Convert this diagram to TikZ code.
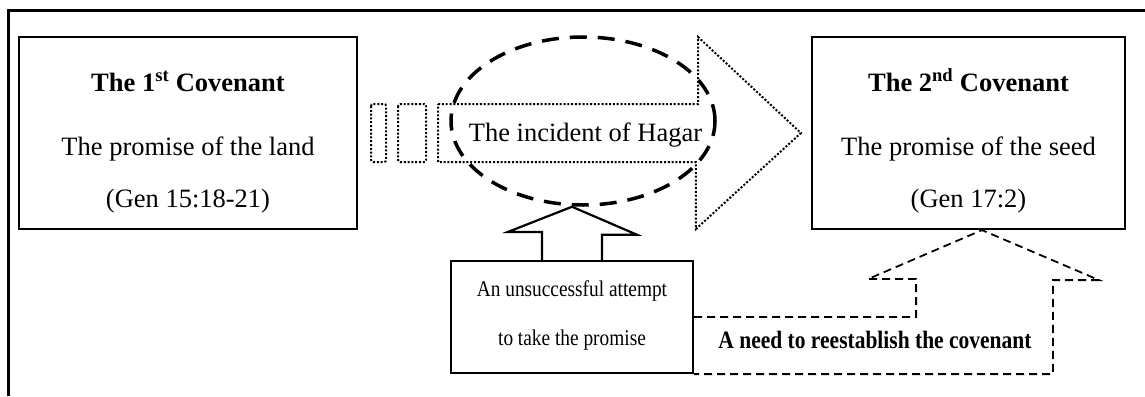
\documentclass[tikz,border=0pt]{standalone}
\usepackage{fontspec}
\setmainfont{Liberation Serif}
\newfontfamily\narrowserif[FakeStretch=0.86]{Liberation Serif}
\usetikzlibrary{shapes.geometric}
\begin{document}
\begin{tikzpicture}[x=1pt,y=-1pt, font=\fontsize{26.5pt}{32pt}\selectfont,
	covbox/.style={draw, line width=2.2pt, minimum width=#1, minimum height=192pt, inner sep=0pt},
	txt/.style={anchor=base, inner sep=0pt},
	dotline/.style={line width=2pt, dash pattern=on 2pt off 1.8pt},
	dashline/.style={line width=1.8pt, dash pattern=on 8pt off 5pt}]
				\useasboundingbox (0,0) rectangle (1145,396);
				\draw[line width=3pt] (8,396)--(8,11)--(1145,11);
				% the two covenants
				\node[covbox=338pt] (first) at (188,133) {};
				\node[covbox=313pt] (second) at (968.5,133) {};
				\foreach \n/\x/\t/\s/\g in {first/188/1/st/15:18-21, second/968.5/2/nd/17:2}
				{
					\node[txt] (\n title) at (\x,91) {\bfseries The \t\textsuperscript{\s} Covenant};
					\node[txt] (\n ref) at (\x,207) {(Gen \g)};
				}
				\node[txt] (firstpromise) at (188,155) {The promise of the land};
				\node[txt] (secondpromise) at (968.5,155) {The promise of the seed};
				% dotted arrow
				\path (first.east)++(80,0) coordinate(tail) (second.west)++(-10,0) coordinate(tip);
				\draw[dotline] ([yshift=29pt]tail)--++(260,0)--++(0,-67)--(tip)--++(-105,96)--++(0,-67)--([yshift=-29pt]tail)--cycle;
				\draw[dotline, rounded corners=2pt] ([shift={(13pt,29pt)}]first.east) rectangle ++(15,58)
				([shift={(40pt,29pt)}]first.east) rectangle ++(28,58);
				\node[ellipse, draw, line width=3.5pt, dash pattern=on 17pt off 11pt, minimum width=264pt, minimum height=168pt, inner sep=0pt] (hagar) at (583,121) {};
				\node[txt] (hagartext) at (585.5,141) {The incident of Hagar};
				% the attempt
				\node[draw, line width=2.2pt, minimum width=242pt, minimum height=112pt] (attempt) at (572,317) {};
				\node[txt, font=\narrowserif\fontsize{22.5pt}{27pt}\selectfont] (attempt1) at (572,296) {An unsuccessful attempt};
				\node[txt, font=\narrowserif\fontsize{22.5pt}{27pt}\selectfont] (attempt2) at (572,345) {to take the promise};
				\draw[line width=2.2pt] ([xshift=-30pt]attempt.north)--++(0,-28)--++(-34,0)--(attempt.north |- hagar.south)--++(65,28)--++(-35,0)--([xshift=30pt]attempt.north);
				% need to reestablish
				\draw[dashline] (attempt.east)--++(222,0)--++(0,-38)--++(-48,0)--([xshift=13.5pt]second.south)--++(117,50)--++(-46,0)--++(0,94)--(attempt.south east);
				\node[txt, font=\narrowserif\bfseries\fontsize{25pt}{30pt}\selectfont] (need) at (875,348) {A need to reestablish the covenant};
\end{tikzpicture}
\end{document}
